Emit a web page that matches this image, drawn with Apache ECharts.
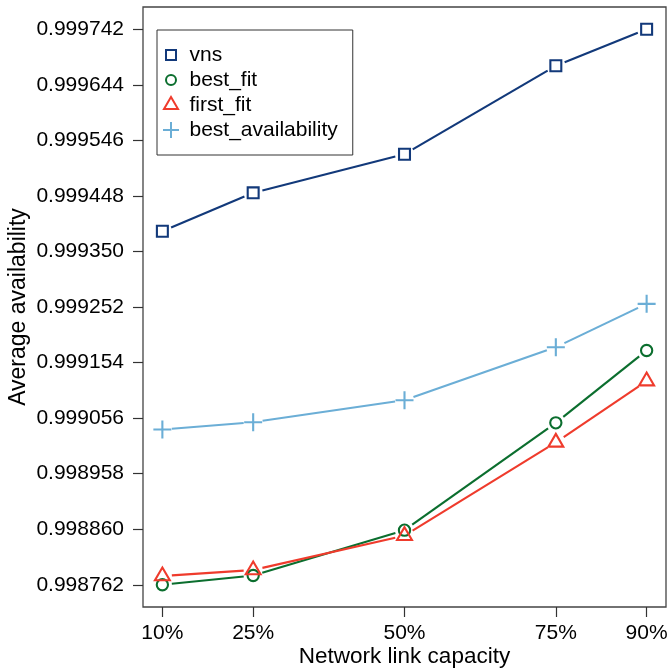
<!DOCTYPE html>
<html>
<head>
<meta charset="utf-8">
<script src="https://cdn.jsdelivr.net/npm/echarts@6/dist/echarts.min.js"></script>
<style>
html, body { margin: 0; padding: 0; background: #fff; }
#chart { width: 670px; height: 672px; }
</style>
</head>
<body>
<div id="chart"></div>
<script>
// ---- data ----
const xValues = [10, 25, 50, 75, 90];
const xTickLabels = ['10%', '25%', '50%', '75%', '90%'];
const yTicks = [0.998762, 0.998860, 0.998958, 0.999056, 0.999154, 0.999252,
                0.999350, 0.999448, 0.999546, 0.999644, 0.999742];
const seriesNames = ['vns', 'best_fit', 'first_fit', 'best_availability'];
const vns = [0.9993857, 0.9994534, 0.9995215, 0.9996775, 0.9997420];
const bestFit = [0.9987620, 0.9987784, 0.9988583, 0.9990477, 0.9991753];
const firstFit = [0.9987775, 0.9987881, 0.9988486, 0.9990132, 0.9991213];
const bestAvailability = [0.9990359, 0.9990488, 0.9990876, 0.9991811, 0.9992576];

// ---- styles ----
const FONT = "'Liberation Sans', Arial, Helvetica, sans-serif";
const colors = ['#12397a', '#0b6e2e', '#ef3b2c', '#6baed6'];
const SQUARE = 'path://M0,0M16,16M3,3H13V13H3Z';
const CIRCLE = 'path://M0,0M16,16M3,8A5,5 0 1,0 13,8A5,5 0 1,0 3,8Z';
const TRIANGLE = 'path://M0,0M16,16M8,0L15,12.04L1,12.04Z';
const PLUS = 'path://M0,0M16,16M8,0V16M0,8H16';
const shapes = [SQUARE, CIRCLE, TRIANGLE, PLUS];
const sizes = [17.5, 18, 17, 18];
const allValues = [vns, bestFit, firstFit, bestAvailability];
const GAP = 9.5;

const yRange = yTicks[yTicks.length - 1] - yTicks[0];
const xRange = xValues[xValues.length - 1] - xValues[0];

const series = [];
allValues.forEach(function (vals, g) {
  const color = colors[g];
  series.push({
    type: 'custom',
    name: seriesNames[g] + '_line',
    z: 2 + 2 * g,
    silent: true,
    data: xValues.map(function (x, i) { return [x, vals[i]]; }),
    encode: { x: 0, y: 1 },
    renderItem: function (params, api) {
      const i = params.dataIndex;
      if (i >= xValues.length - 1) return null;
      const p0 = api.coord([api.value(0), api.value(1)]);
      const p1 = api.coord([xValues[i + 1], vals[i + 1]]);
      const dx = p1[0] - p0[0], dy = p1[1] - p0[1];
      const len = Math.sqrt(dx * dx + dy * dy);
      if (len <= 2 * GAP) return null;
      const ux = dx / len, uy = dy / len;
      return {
        type: 'line',
        shape: { x1: p0[0] + ux * GAP, y1: p0[1] + uy * GAP, x2: p1[0] - ux * GAP, y2: p1[1] - uy * GAP },
        style: { stroke: color, lineWidth: 2.1 }
      };
    }
  });
  series.push({
    type: 'scatter',
    name: seriesNames[g],
    z: 3 + 2 * g,
    symbol: shapes[g],
    symbolSize: sizes[g],
    itemStyle: { color: 'rgba(255,255,255,0)', borderColor: color, borderWidth: 2.1, opacity: 1 },
    data: xValues.map(function (x, i) { return [x, vals[i]]; })
  });
});

const chart = echarts.init(document.getElementById('chart'), null, { renderer: 'canvas' });
chart.setOption({
  animation: false,
  backgroundColor: '#fff',
  textStyle: { fontFamily: FONT },
  grid: {
    left: 143, right: 4, top: 7, bottom: 65,
    containLabel: false,
    outerBoundsMode: 'none',
    show: true, borderColor: '#444', borderWidth: 1.3, backgroundColor: 'transparent'
  },
  legend: {
    orient: 'vertical',
    left: 157, top: 30,
    padding: [14.5, 15, 14.5, 5],
    borderColor: '#333', borderWidth: 1, backgroundColor: '#fff',
    itemWidth: 27, itemHeight: 16, itemGap: 4,
    selectedMode: false,
    textStyle: { fontSize: 21, color: '#000', fontFamily: FONT },
    data: seriesNames.map(function (n, g) {
      return { name: n, icon: shapes[g], itemStyle: { color: 'rgba(255,255,255,0)', borderColor: colors[g], borderWidth: 2 } };
    })
  },
  xAxis: {
    type: 'value',
    min: xValues[0] - 0.04 * xRange,
    max: xValues[xValues.length - 1] + 0.04 * xRange,
    splitLine: { show: false },
    axisLine: { show: false },
    axisTick: { show: true, customValues: xValues, length: 10, lineStyle: { color: '#333', width: 1.2 } },
    axisLabel: {
      customValues: xValues,
      formatter: function (v) { return xTickLabels[xValues.indexOf(v)] || (v + '%'); },
      fontSize: 21, color: '#000', margin: 16, fontFamily: FONT
    },
    name: 'Network link capacity',
    nameLocation: 'middle',
    nameGap: 38.5,
    nameMoveOverlap: false,
    nameTextStyle: { fontSize: 22.5, color: '#000', fontFamily: FONT }
  },
  yAxis: {
    type: 'value',
    min: yTicks[0] - 0.04 * yRange,
    max: yTicks[yTicks.length - 1] + 0.04 * yRange,
    splitLine: { show: false },
    axisLine: { show: false },
    axisTick: { show: true, customValues: yTicks, length: 10, lineStyle: { color: '#333', width: 1.2 } },
    axisLabel: {
      customValues: yTicks,
      formatter: function (v) { return v.toFixed(6); },
      fontSize: 21, color: '#000', margin: 19, fontFamily: FONT,
      padding: [4, 0, 0, 0]
    },
    name: 'Average availability',
    nameLocation: 'middle',
    nameGap: 113,
    nameMoveOverlap: false,
    nameTextStyle: { fontSize: 23, color: '#000', fontFamily: FONT }
  },
  series: series
});
</script>
</body>
</html>
